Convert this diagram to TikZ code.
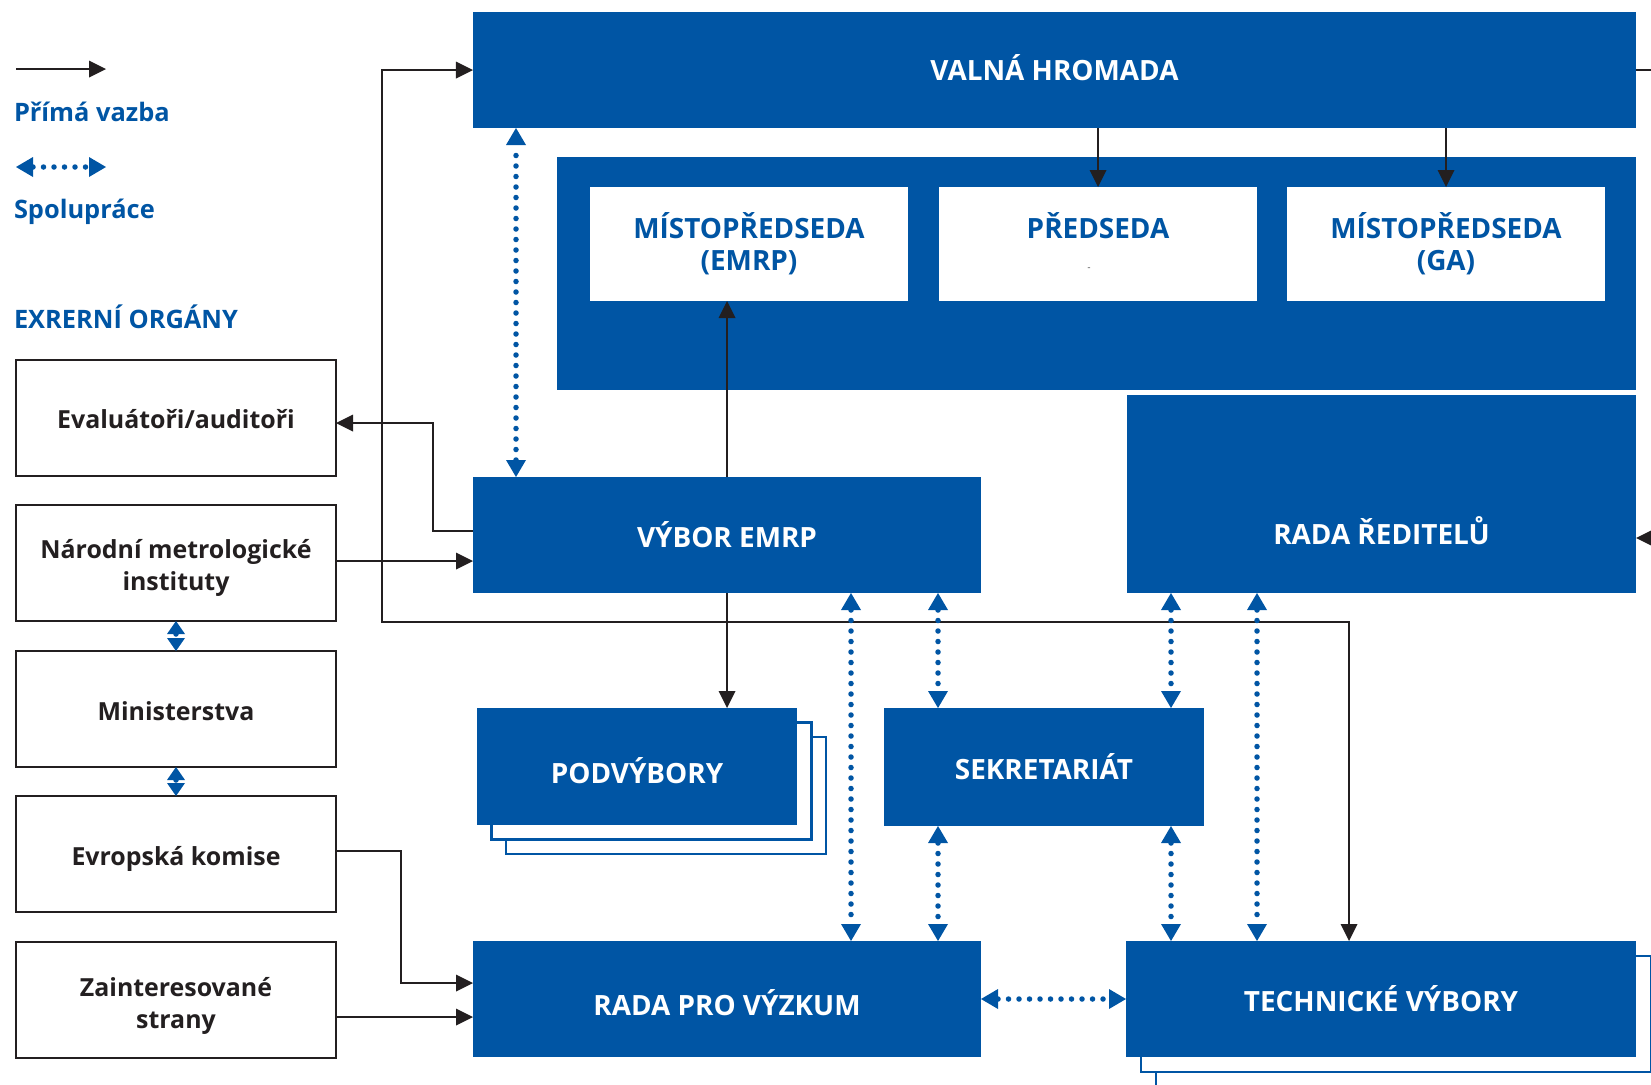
\documentclass[tikz,border=0pt]{standalone}
\usepackage{fontspec}
\setmainfont{Open Sans}
\usetikzlibrary{arrows.meta}
\definecolor{eblue}{RGB}{0,85,164}
\definecolor{ink}{RGB}{35,31,32}
\newcommand\lowr[2]{\raisebox{-#1}[\height][\depth]{#2}}
\begin{document}
\begin{tikzpicture}[x=1bp,y=-1bp,
  bluebox/.style={fill=eblue,draw=none,text=white,inner sep=0pt,outer sep=0pt,align=center,font=\bfseries\fontsize{28}{32}\selectfont},
  whitebox/.style={fill=white,draw=none,text=eblue,inner sep=0pt,outer sep=0pt,align=center,font=\bfseries\fontsize{28}{32}\selectfont,minimum width=318bp,minimum height=114bp},
  extbox/.style={fill=white,draw=ink,line width=2bp,text=ink,inner sep=0pt,outer sep=0pt,align=center,font=\bfseries\fontsize{25}{32}\selectfont,minimum width=320bp,minimum height=116bp},
  shadowbox/.style={fill=white,draw=eblue,line width=2.2bp,inner sep=0pt,outer sep=0pt},
  direct/.style={draw=ink,line width=2bp,-{Triangle[length=17bp,width=17bp,line width=0pt]}},
  bothdirect/.style={draw=ink,line width=2bp,{Triangle[length=17bp,width=17bp,line width=0pt]}-{Triangle[length=17bp,width=17bp,line width=0pt]}},
  coop/.style={draw=eblue,line width=5.5bp,dash pattern=on 0bp off 10.5bp,line cap=round,{Triangle[length=17bp,width=20bp,line width=0pt]}-{Triangle[length=17bp,width=20bp,line width=0pt]}},
  coopshort/.style={draw=eblue,line width=5.5bp,dash pattern=on 0bp off 10.5bp,line cap=round,{Triangle[length=13bp,width=18bp,line width=0pt]}-{Triangle[length=13bp,width=18bp,line width=0pt]}},
  legend/.style={text=eblue,font=\bfseries\fontsize{25.5}{30}\selectfont,inner sep=0pt,outer sep=0pt,anchor=base west}
]
\useasboundingbox (0,0) rectangle (1651,1084);

% legend
\coordinate (l1s) at (16,69);
\coordinate (l1e) at (106,69);
\draw[direct] (l1s) -- (l1e);
\node[legend] (L1) at (14,121) {Přímá vazba};
\coordinate (l2s) at (16,167);
\coordinate (l2e) at (106,167);
\draw[coop] (l2s) -- (l2e);
\node[legend] (L2) at (14,218) {Spolupráce};
\node[legend] (L3) at (14,328) {EXRERNÍ ORGÁNY};

% main boxes
\node[bluebox,minimum width=1163bp,minimum height=116bp] (VH) at (1054.5,70) {\lowr{-2bp}{VALNÁ HROMADA}};
\node[fill=eblue,draw=none,inner sep=0pt,outer sep=0pt,minimum width=1079bp,minimum height=233bp] (FR) at (1096.5,273.5) {};
\node[whitebox] (M1) at (749,244) {MÍSTOPŘEDSEDA\\(EMRP)};
\node[whitebox] (PR) at (1098,244) {PŘEDSEDA\\\vphantom{(}{\color{black!45}\fontsize{9}{9}\selectfont -}\hspace*{18bp}};
\node[whitebox] (M2) at (1446,244) {MÍSTOPŘEDSEDA\\(GA)};
\node[bluebox,minimum width=509bp,minimum height=198bp] (RR) at (1381.5,494) {};
\node[bluebox] (RRt) at (1381.5,531) {RADA ŘEDITELŮ};
\node[bluebox,minimum width=508bp,minimum height=116bp] (VE) at (727,535) {VÝBOR EMRP};

\node[shadowbox,minimum width=320bp,minimum height=117bp] (PV2) at (666,795.5) {};
\node[shadowbox,minimum width=320bp,minimum height=117bp] (PV1) at (651.5,781) {};
\node[bluebox,minimum width=320bp,minimum height=117bp] (PV) at (637,766.5) {\lowr{4bp}{PODVÝBORY}};
\node[bluebox,minimum width=320bp,minimum height=118bp] (SK) at (1044,767) {SEKRETARIÁT};
\node[bluebox,minimum width=508bp,minimum height=116bp] (RV) at (727,999) {\lowr{4bp}{RADA PRO VÝZKUM}};

\node[shadowbox,minimum width=510bp,minimum height=116bp] (TV2) at (1411,1029) {};
\node[shadowbox,minimum width=510bp,minimum height=116bp] (TV1) at (1396,1014) {};
\node[bluebox,minimum width=510bp,minimum height=116bp] (TV) at (1381,999) {TECHNICKÉ VÝBORY};

% external bodies
\node[extbox] (EV) at (176,418) {\lowr{1bp}{Evaluátoři/auditoři}};
\node[extbox] (NM) at (176,563) {\lowr{5bp}{Národní metrologické}\\\lowr{5bp}{instituty}};
\node[extbox] (MI) at (176,709) {\lowr{2bp}{Ministerstva}};
\node[extbox] (EK) at (176,854) {\lowr{5bp}{Evropská komise}};
\node[extbox] (ZS) at (176,1000) {\lowr{6bp}{Zainteresované}\\\lowr{6bp}{strany}};

% direct links
\coordinate (c1) at (382,622);
\draw[bothdirect] (VH.west) -| (c1) -| ([xshift=-32bp]TV.north);
\draw[direct] (VH.east) -- ++(40,0) |- ([yshift=-44bp]RR.east);
\draw[direct] (VH.south -| PR.north) -- (PR.north);
\draw[direct] (VH.south -| M2.north) -- (M2.north);
\draw[direct] (VE.north) -- (VE.north |- M1.south);
\draw[direct] (VE.south) -- (VE.south |- PV.north);
\draw[direct] ([yshift=4bp]VE.west) -- ++(-40,0) |- ([yshift=-5bp]EV.east);
\draw[direct] ([yshift=2bp]NM.east) -- ([yshift=2bp]NM.east -| VE.west);
\draw[direct] ([yshift=3bp]EK.east) -- ++(65,0) |- ([yshift=16bp]RV.west);
\draw[direct] ([yshift=-17bp]ZS.east) -- ([yshift=-17bp]ZS.east -| RV.west);

% cooperation links
\draw[coop] ([xshift=43bp]VE.north west) -- ([xshift=43bp]VE.north west |- VH.south);
\draw[coop] ([xshift=378bp]VE.south west) -- ([xshift=378bp]VE.south west |- RV.north);
\draw[coop] ([xshift=465bp]VE.south west) -- ([xshift=465bp]VE.south west |- SK.north);
\draw[coop] ([xshift=54bp]SK.south west) -- ([xshift=54bp]SK.south west |- RV.north);
\draw[coop] ([xshift=44bp]RR.south west) -- ([xshift=44bp]RR.south west |- SK.north);
\draw[coop] ([xshift=287bp]SK.south west) -- ([xshift=287bp]SK.south west |- TV.north);
\draw[coop] ([xshift=130bp]RR.south west) -- ([xshift=130bp]RR.south west |- TV.north);
\draw[coop] (RV.east) -- (TV.west);
\draw[coopshort] (NM.south) -- (MI.north);
\draw[coopshort] (MI.south) -- (EK.north);
\end{tikzpicture}
\end{document}
